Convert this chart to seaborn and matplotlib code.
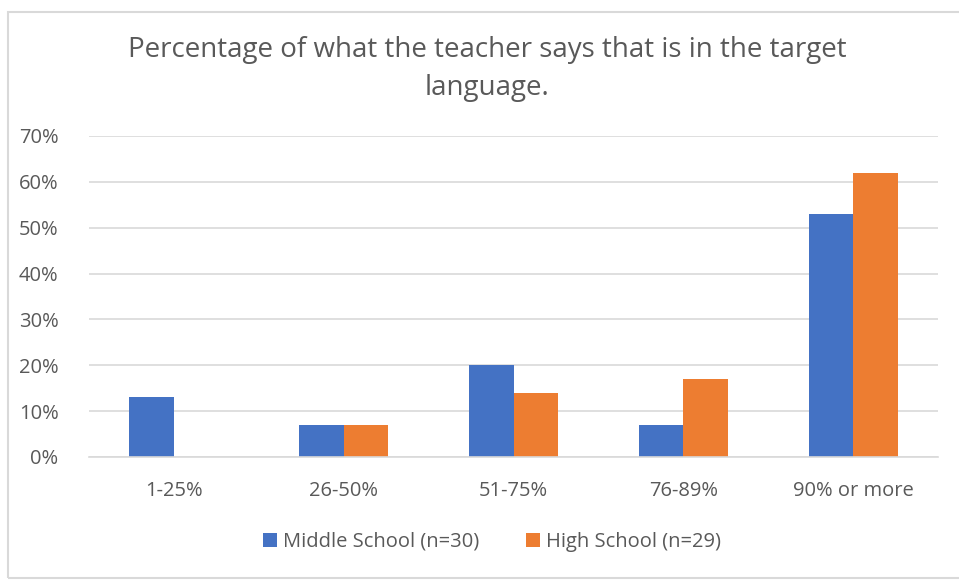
import matplotlib
matplotlib.use("Agg")
import matplotlib.pyplot as plt
import seaborn as sns
import pandas as pd
from matplotlib.patches import Rectangle
from matplotlib.ticker import PercentFormatter

categories = ["1-25%", "26-50%", "51-75%", "76-89%", "90% or more"]
middle_school = [0.13, 0.07, 0.20, 0.07, 0.53]
high_school = [0.00, 0.07, 0.14, 0.17, 0.62]
series_names = ["Middle School (n=30)", "High School (n=29)"]
colors = ["#4472C4", "#ED7D31"]
title = "Percentage of what the teacher says that is in the target\nlanguage."

df = pd.DataFrame({
    "category": categories * 2,
    "value": middle_school + high_school,
    "series": [series_names[0]] * len(categories) + [series_names[1]] * len(categories),
})

sns.set_theme(style="white")
plt.rcParams["font.family"] = ["Open Sans", "DejaVu Sans"]

fig = plt.figure(figsize=(9.59, 5.80), dpi=100)
ax = fig.add_axes([89 / 959, 1 - 457 / 580, (938 - 89) / 959, (457 - 136) / 580])

sns.barplot(data=df, x="category", y="value", hue="series", order=categories,
            hue_order=series_names, palette=colors, width=0.525, gap=0,
            saturation=1, linewidth=0, ax=ax, legend=True)

ax.set_ylim(0, 0.7)
ax.set_yticks([i / 10 for i in range(8)])
ax.yaxis.set_major_formatter(PercentFormatter(1.0, decimals=0))
ax.grid(axis="y", color="#d9d9d9", linewidth=1.2)
ax.set_axisbelow(True)
for s in ["top", "right", "left"]:
    ax.spines[s].set_visible(False)
ax.spines["bottom"].set_color("#d9d9d9")
ax.spines["bottom"].set_linewidth(1.2)
ax.set_xlabel("")
ax.set_ylabel("")
ax.tick_params(axis="both", length=0, labelsize=14.5, labelcolor="#595959")
ax.tick_params(axis="x", pad=17)
ax.tick_params(axis="y", pad=22)
ax.set_xlim(-0.5, 4.5)

leg = ax.legend(loc="center", bbox_to_anchor=(492 / 959, 1 - 542 / 580),
                bbox_transform=fig.transFigure, ncol=2, frameon=False,
                fontsize=14.5, handlelength=0.7, handleheight=0.7,
                handletextpad=0.3, columnspacing=2.3)
for t in leg.get_texts():
    t.set_color("#595959")

fig.text(487 / 959, 1 - 69 / 580, title, ha="center", va="center",
         fontsize=20, color="#595959", linespacing=1.45)

fig.patches.append(Rectangle((7.5 / 959, 2 / 580), 1.2, (578 - 2 - 10) / 580,
                             transform=fig.transFigure, fill=False,
                             edgecolor="#d9d9d9", linewidth=1.5))

fig.savefig("out.png", dpi=100)
